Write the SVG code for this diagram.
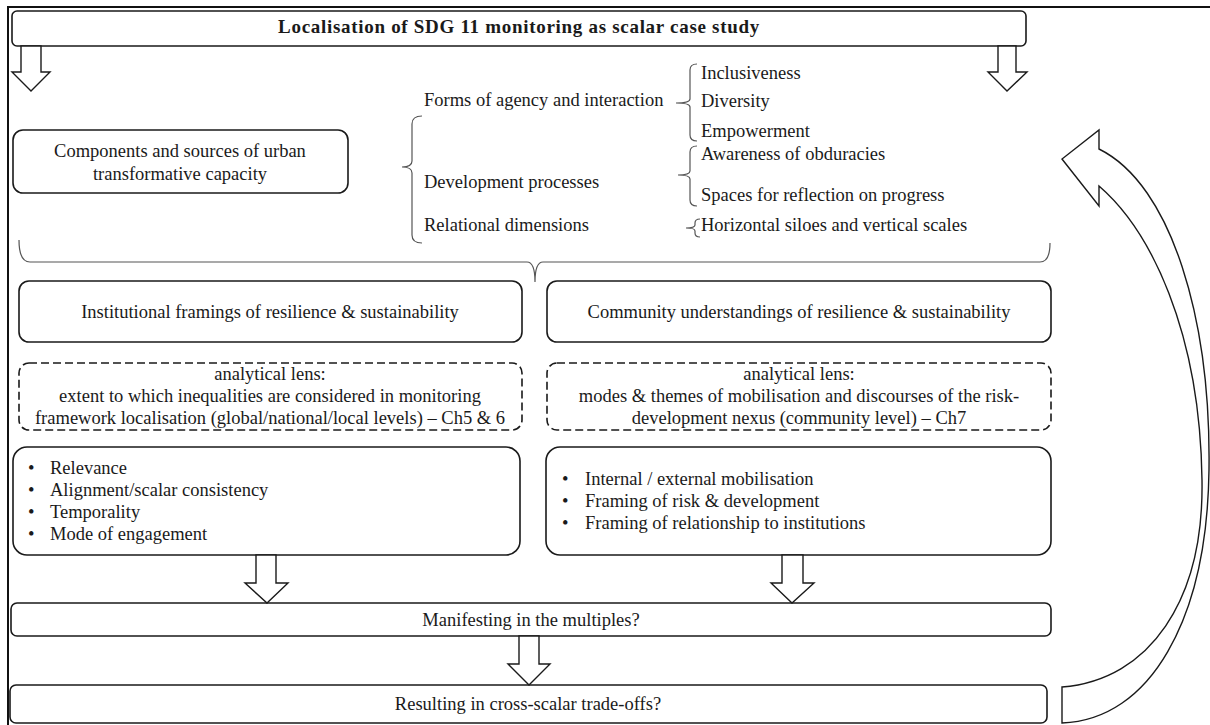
<svg xmlns="http://www.w3.org/2000/svg" width="1210" height="725" viewBox="0 0 1210 725" font-family="'Liberation Serif', 'DejaVu Serif', 'Times New Roman', serif">
  <style>
    .box { fill: #ffffff; stroke: #1a1a1a; stroke-width: 1.6; }
    .dash { fill: #ffffff; stroke: #1a1a1a; stroke-width: 1.6; stroke-dasharray: 8 4; }
    .brace { fill: none; stroke: #555555; stroke-width: 1.2; }
    .blk { fill: #ffffff; stroke: #1a1a1a; stroke-width: 1.4; stroke-linejoin: miter; }
    text { font-family: 'Liberation Serif', 'DejaVu Serif', 'Times New Roman', serif; font-size: 18.5px; fill: #1a1a1a; }
    .c { text-anchor: middle; }
    .title { font-weight: bold; font-size: 19px; letter-spacing: 0.7px; }
  </style>

  <!-- outer frame -->
  <rect x="8" y="7" width="1220" height="740" fill="none" stroke="#111111" stroke-width="2"/>

  <!-- title -->
  <g id="title">
    <rect class="box" x="12" y="11" width="1014" height="35" rx="5"/>
    <text class="c title" x="519" y="33" font-family="Liberation Serif, serif">Localisation of SDG 11 monitoring as scalar case study</text>
  </g>

  <g font-family="Liberation Serif, serif">
  <!-- components of transformative capacity -->
  <g id="components">
    <rect class="box" x="13" y="130" width="335" height="63" rx="10"/>
    <text class="c" x="180" y="157">Components and sources of urban</text>
    <text class="c" x="180" y="180">transformative capacity</text>
  </g>

  <g id="dimensions">
    <text x="424" y="106">Forms of agency and interaction</text>
    <text x="424" y="188">Development processes</text>
    <text x="424" y="231">Relational dimensions</text>
  </g>

  <g id="agency-items">
    <text x="701" y="79">Inclusiveness</text>
    <text x="701" y="107">Diversity</text>
    <text x="701" y="137">Empowerment</text>
  </g>

  <g id="process-items">
    <text x="701" y="160">Awareness of obduracies</text>
    <text x="701" y="201">Spaces for reflection on progress</text>
  </g>

  <g id="relational-items">
    <text x="701" y="231">Horizontal siloes and vertical scales</text>
  </g>

  <!-- framings -->
  <g id="institutional">
    <rect class="box" x="19" y="281" width="503" height="61" rx="10"/>
    <text class="c" x="270" y="318">Institutional framings of resilience &amp; sustainability</text>
  </g>
  <g id="community">
    <rect class="box" x="547" y="281" width="504" height="61" rx="10"/>
    <text class="c" x="799" y="318">Community understandings of resilience &amp; sustainability</text>
  </g>

  <!-- analytical lenses -->
  <g id="lens-institutional">
    <rect class="dash" x="19" y="363" width="503" height="67" rx="10"/>
    <text class="c" x="270" y="380">analytical lens:</text>
    <text class="c" x="270" y="402">extent to which inequalities are considered in monitoring</text>
    <text class="c" x="270" y="424">framework localisation (global/national/local levels) – Ch5 &amp; 6</text>
  </g>
  <g id="lens-community">
    <rect class="dash" x="547" y="363" width="504" height="67" rx="10"/>
    <text class="c" x="799" y="380">analytical lens:</text>
    <text class="c" x="799" y="402">modes &amp; themes of mobilisation and discourses of the risk-</text>
    <text class="c" x="799" y="424">development nexus (community level) – Ch7</text>
  </g>

  <!-- criteria -->
  <g id="criteria-institutional">
    <rect class="box" x="13" y="447" width="507" height="108" rx="14"/>
    <text x="28" y="474">•</text><text x="50" y="474">Relevance</text>
    <text x="28" y="496">•</text><text x="50" y="496">Alignment/scalar consistency</text>
    <text x="28" y="518">•</text><text x="50" y="518">Temporality</text>
    <text x="28" y="540">•</text><text x="50" y="540">Mode of engagement</text>
  </g>
  <g id="criteria-community">
    <rect class="box" x="546" y="447" width="505" height="108" rx="14"/>
    <text x="562" y="485">•</text><text x="585" y="485">Internal / external mobilisation</text>
    <text x="562" y="507">•</text><text x="585" y="507">Framing of risk &amp; development</text>
    <text x="562" y="529">•</text><text x="585" y="529">Framing of relationship to institutions</text>
  </g>

  <g id="multiples">
    <rect class="box" x="11" y="603" width="1040" height="33" rx="6"/>
    <text class="c" x="531" y="626">Manifesting in the multiples?</text>
  </g>

  <g id="tradeoffs">
    <rect class="box" x="10" y="685" width="1037" height="38" rx="6"/>
    <text class="c" x="528" y="710">Resulting in cross-scalar trade-offs?</text>
  </g>
  </g>

  <!-- connectors: braces, block arrows and the feedback arrow -->
  <g id="connectors">
    <!-- braces -->
    <path class="brace" d="M422,116 Q412,116 412,124 L412,161 Q412,167 402,167 Q412,167 412,173 L412,235 Q412,243 422,243"/>
    <path class="brace" d="M697,64 Q690,64 690,70 L690,99 Q690,103 676,103 Q690,103 690,107 L690,135 Q690,141 697,141"/>
    <path class="brace" d="M697,146 Q690,146 690,152 L690,171 Q690,175 678,175 Q690,175 690,179 L690,200 Q690,206 697,206"/>
    <path class="brace" d="M700,219 Q695,219 695,223 L695,225 Q695,228 686,228 Q695,228 695,231 L695,233 Q695,237 700,237"/>
    <path class="brace" d="M19,240 Q19,262 30,262 L527,262 Q535,262 535,282 Q535,262 543,262 L1040,262 Q1050,262 1050,243"/>

    <!-- block arrows -->
    <polygon class="blk" points="21,46 41,46 41,72 50,72 31,91 12,72 21,72"/>
    <polygon class="blk" points="998,46 1016,46 1016,72 1027,72 1007,91 988,72 998,72"/>
    <polygon class="blk" points="256,555 276,555 276,583 288,583 267,603 245,583 256,583"/>
    <polygon class="blk" points="782,555 803,555 803,583 814,583 792,603 771,583 782,583"/>
    <polygon class="blk" points="519,636 539,636 539,664 550,664 529,685 508,664 519,664"/>

    <!-- curved feedback arrow -->
    <path class="blk" d="M1062,687 C1150,680 1204,600 1202,480 C1200,330 1150,230 1099,186 L1099,206 L1062,159 L1099,130 L1099,149 C1172,185 1211,320 1209,470 C1207,620 1150,720 1062,723 Z"/>
  </g>
</svg>
